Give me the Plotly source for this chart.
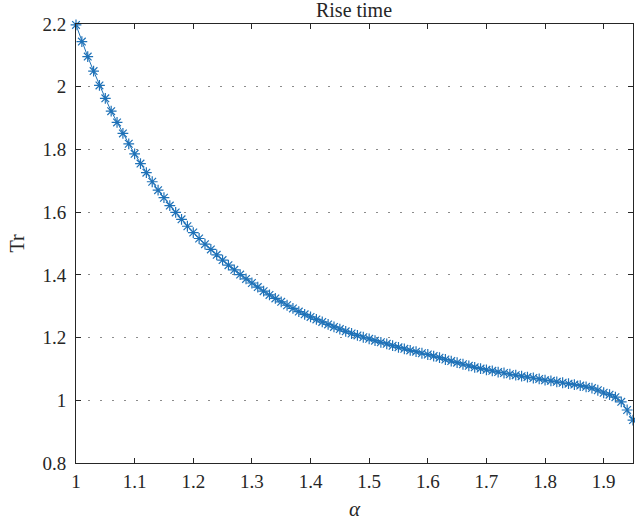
import plotly.graph_objects as go

alpha = [round(1.0 + 0.01 * i, 2) for i in range(96)]
tr = [2.197, 2.144, 2.096, 2.050, 2.004, 1.963, 1.922, 1.886, 1.851, 1.818,
      1.786, 1.755, 1.726, 1.697, 1.670, 1.646, 1.621, 1.599, 1.577, 1.555,
      1.535, 1.516, 1.498, 1.481, 1.464, 1.447, 1.431, 1.416, 1.401, 1.387,
      1.374, 1.361, 1.348, 1.336, 1.325, 1.314, 1.303, 1.293, 1.283, 1.274,
      1.266, 1.258, 1.250, 1.242, 1.234, 1.227, 1.220, 1.213, 1.207, 1.201,
      1.196, 1.190, 1.185, 1.180, 1.174, 1.169, 1.164, 1.159, 1.155, 1.150,
      1.146, 1.141, 1.136, 1.130, 1.125, 1.120, 1.115, 1.110, 1.105, 1.101,
      1.097, 1.094, 1.090, 1.087, 1.083, 1.080, 1.077, 1.074, 1.071, 1.068,
      1.064, 1.062, 1.059, 1.056, 1.053, 1.050, 1.047, 1.043, 1.039, 1.032,
      1.024, 1.018, 1.010, 0.995, 0.969, 0.937]

x_ticks = [1, 1.1, 1.2, 1.3, 1.4, 1.5, 1.6, 1.7, 1.8, 1.9]
x_tick_labels = ["1", "1.1", "1.2", "1.3", "1.4", "1.5", "1.6", "1.7", "1.8", "1.9"]
y_ticks = [0.8, 1.0, 1.2, 1.4, 1.6, 1.8, 2.0, 2.2]
y_tick_labels = ["0.8", "1", "1.2", "1.4", "1.6", "1.8", "2", "2.2"]

color = "#1f72b8"
font = "Liberation Serif, Times New Roman, serif"
ink = "#262626"

fig = go.Figure()
fig.add_trace(go.Scatter(
    x=alpha, y=tr, mode="lines+markers",
    line=dict(color=color, width=1),
    marker=dict(symbol="asterisk-open", size=9, color=color,
                line=dict(color=color, width=1.2)),
    showlegend=False, cliponaxis=False,
))

axis_common = dict(
    showline=True, linecolor=ink, linewidth=1, mirror="ticks",
    ticks="inside", ticklen=5, tickcolor=ink, tickwidth=1,
    tickfont=dict(family=font, size=19, color=ink),
    zeroline=False,
)

fig.update_xaxes(
    range=[1, 1.95], tickvals=x_ticks, ticktext=x_tick_labels,
    showgrid=False, ticklabelstandoff=1,
    title=dict(text="<i>α</i>", font=dict(family=font, size=21, color=ink),
               standoff=10),
    **axis_common,
)
fig.update_yaxes(
    range=[0.8, 2.2], tickvals=y_ticks, ticktext=y_tick_labels,
    showgrid=True, gridcolor="#8c8c8c", griddash="1.5px,10.5px", gridwidth=1,
    ticklabelstandoff=5,
    title=dict(text="Tr", font=dict(family=font, size=20, color=ink),
               standoff=12),
    **axis_common,
)

fig.update_layout(
    width=635, height=526,
    margin=dict(l=76, r=2, t=24, b=63),
    plot_bgcolor="white", paper_bgcolor="white",
    title=dict(text="Rise time", x=0.5575, xanchor="center",
               y=0.981, yanchor="middle",
               font=dict(family=font, size=20, color=ink)),
)

fig.write_html("out.html")
